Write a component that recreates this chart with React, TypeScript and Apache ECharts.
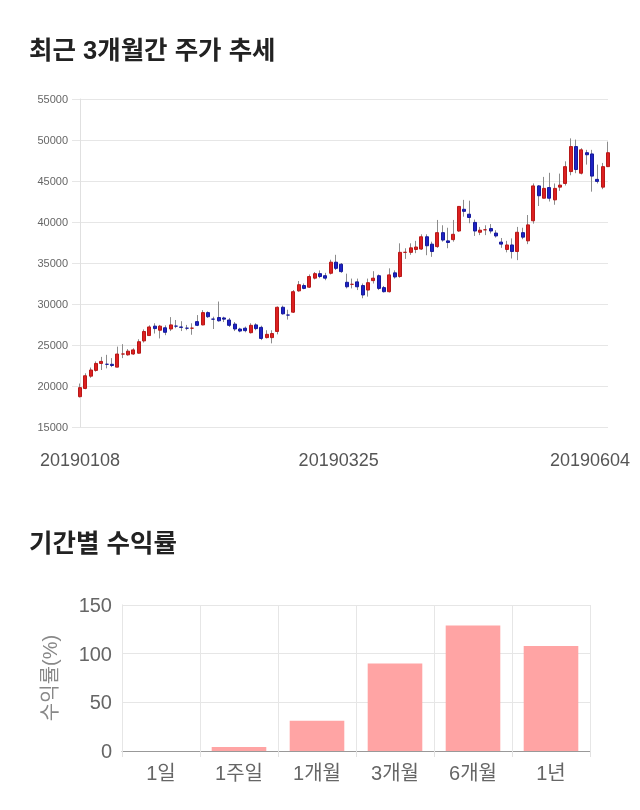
import React, { useEffect, useRef } from "react";
import * as echarts from "echarts";

const dates = [
  "20190108", "20190109", "20190110", "20190111", "20190114", "20190115", "20190116", "20190117", "20190118",
  "20190121", "20190122", "20190123", "20190124", "20190125", "20190128", "20190129", "20190130", "20190131",
  "20190201", "20190207", "20190208", "20190211", "20190212", "20190213", "20190214", "20190215", "20190218",
  "20190219", "20190220", "20190221", "20190222", "20190225", "20190226", "20190227", "20190228",
  "20190304", "20190305", "20190306", "20190307", "20190308", "20190311", "20190312", "20190313", "20190314",
  "20190315", "20190318", "20190319", "20190320", "20190321", "20190322", "20190325", "20190326", "20190327",
  "20190328", "20190329",
  "20190401", "20190402", "20190403", "20190404", "20190405", "20190408", "20190409", "20190410", "20190411",
  "20190412", "20190415", "20190416", "20190417", "20190418", "20190419", "20190422", "20190423", "20190424",
  "20190425", "20190426", "20190429", "20190430",
  "20190502", "20190503", "20190507", "20190508", "20190509", "20190510", "20190513", "20190514", "20190515",
  "20190516", "20190517", "20190520", "20190521", "20190522", "20190523", "20190524", "20190527", "20190528",
  "20190529", "20190530", "20190531",
  "20190603", "20190604",
];

const openPrices = [
  18700, 19700, 21200, 21900, 22750, 22650, 22650, 22300, 23900, 23800,
  23900, 24000, 25500, 26150, 27300, 26800, 27100, 26950, 27300, 27200,
  27050, 27050, 27850, 27450, 28950, 28150, 28350, 28300, 28050, 27550,
  26950, 27050, 26500, 27450, 27150, 25900, 25900, 26650, 29600, 28650,
  29000, 31600, 32250, 32050, 33150, 33700, 33450, 33750, 35100, 34850,
  32650, 32400, 32700, 32250, 31700, 32850, 33450, 32000, 31500, 33800,
  33350, 36300, 36300, 36650, 36700, 38200, 37300, 37000, 38700, 37700,
  37850, 38900, 41550, 40950, 39950, 38750, 39050, 39200, 38650, 37550,
  36650, 37200, 36400, 38700, 37700, 40150, 44400, 42900, 44200, 42700,
  44250, 44700, 46150, 49200, 45950, 48450, 48300, 45200, 44250, 46750,
];
const closePrices = [
  19800, 21250, 21950, 22750, 23000, 22650, 22500, 23900, 23900, 24250,
  24400, 25400, 26650, 27200, 27000, 27300, 26550, 27450, 27300, 27150,
  27050, 27050, 27400, 28950, 28450, 28150, 27950, 28150, 27400, 26950,
  26700, 26750, 27400, 27000, 25800, 26300, 26400, 29600, 28800, 28650,
  31500, 32350, 31900, 33350, 33700, 33350, 33150, 35100, 34350, 33950,
  32100, 32400, 32100, 31100, 32600, 33150, 31900, 31500, 33550, 33300,
  36300, 36300, 36850, 36950, 38200, 37100, 36400, 38700, 37800, 37500,
  38500, 41900, 41300, 40550, 38900, 39000, 39050, 38900, 38300, 37300,
  37200, 36400, 38750, 38150, 39650, 44400, 43200, 44100, 42900, 44100,
  44500, 46750, 49200, 46400, 48800, 48200, 45600, 44950, 46750, 48450,
];
const lowPrices = [
  18600, 19600, 21000, 21750, 21950, 22150, 22300, 22300, 23400, 23700,
  23800, 23950, 25300, 26100, 26400, 25800, 26200, 26700, 27050, 26700,
  26800, 26250, 27300, 27400, 28300, 26950, 27850, 27800, 27200, 26700,
  26550, 26550, 26400, 26800, 25600, 25800, 25200, 26300, 28700, 28100,
  28900, 31500, 31800, 31950, 33000, 33150, 32900, 33600, 34150, 33800,
  31900, 31900, 31700, 30700, 30900, 32500, 31700, 31400, 31400, 33100,
  33200, 35500, 36000, 36200, 36600, 35950, 35750, 36850, 37600, 36800,
  37600, 38800, 40650, 39850, 38300, 38400, 38400, 38600, 38100, 36850,
  36300, 35550, 35350, 37900, 37300, 39800, 41950, 42900, 42500, 42100,
  43800, 44450, 45700, 45950, 45800, 47000, 43700, 44700, 44000, 46700,
];
const highPrices = [
  20300, 21550, 22250, 23000, 23550, 23800, 23400, 24800, 25100, 24500,
  24600, 25700, 26900, 27400, 27650, 27450, 27400, 28400, 28050, 27900,
  27450, 27650, 28650, 29250, 29100, 28450, 30300, 28450, 28300, 27800,
  27100, 27250, 27650, 27650, 27350, 26800, 26800, 29700, 29800, 29300,
  31700, 32800, 32500, 33600, 33900, 34100, 33800, 35400, 36000, 35000,
  33700, 33100, 33100, 32500, 33100, 34000, 33600, 32200, 34350, 34100,
  37400, 36800, 37400, 37700, 38500, 38500, 37600, 40250, 39600, 39300,
  40250, 41950, 42700, 42600, 40300, 39400, 39600, 39750, 39000, 38050,
  37700, 38000, 39400, 39300, 40850, 44700, 44500, 45500, 46000, 44700,
  45900, 47400, 50200, 50050, 49000, 48800, 48800, 47000, 47200, 49800,
];

const shownDateIndexes = [0, 50, 99];

const periodLabels = ["1일", "1주일", "1개월", "3개월", "6개월", "1년"];
const periodReturns = [0, 4, 31, 90, 129, 108];

const FONT = "'Liberation Sans', 'Noto Sans CJK KR', sans-serif";

export default function App() {
  const ref = useRef<HTMLDivElement>(null);

  useEffect(() => {
    const chart = echarts.init(ref.current!, null, { renderer: "svg" });
    const wickData = dates.map((_, i) => [openPrices[i], closePrices[i], lowPrices[i], highPrices[i]]);
    const bodyData = dates.map((_, i) => [
      openPrices[i],
      closePrices[i],
      Math.min(openPrices[i], closePrices[i]),
      Math.max(openPrices[i], closePrices[i]),
    ]);
    const lastIdx = dates.length - 1;

    chart.setOption({
      animation: false,
      textStyle: { fontFamily: FONT },
      title: [
        {
          text: "최근 3개월간 주가 추세",
          left: 29,
          top: 37,
          padding: 0,
          textStyle: { fontSize: 25.5, fontWeight: "bold", color: "#222", fontFamily: FONT },
        },
        {
          text: "기간별 수익률",
          left: 29,
          top: 530,
          padding: 0,
          textStyle: { fontSize: 25.5, fontWeight: "bold", color: "#222", fontFamily: FONT },
        },
      ],
      grid: [
        { left: 80, right: 32, top: 99, height: 328 },
        { left: 122, right: 50, top: 605, height: 146 },
      ],
      xAxis: [
        {
          type: "category",
          gridIndex: 0,
          data: dates,
          boundaryGap: false,
          axisLine: { show: false },
          axisTick: { show: false },
          splitLine: { show: false },
          axisLabel: {
            interval: (i: number) => shownDateIndexes.includes(i),
            margin: 24,
            fontSize: 18,
            color: "#555",
            fontFamily: FONT,
            formatter: (v: string, i: number) =>
              i === lastIdx ? `{last|${v}}` : i === 50 ? `{mid|${v}}` : `{n|${v}}`,
            rich: {
              n: { fontSize: 18, color: "#555", fontFamily: FONT },
              mid: { fontSize: 18, color: "#555", fontFamily: FONT, padding: [0, 16, 0, 0] },
              last: { fontSize: 18, color: "#555", fontFamily: FONT, padding: [0, 36, 0, 0] },
            },
          },
        },
        {
          type: "category",
          gridIndex: 1,
          data: periodLabels,
          z: 5,
          axisLine: { show: true, lineStyle: { color: "#999", width: 1 } },
          axisTick: { show: true, length: 6, lineStyle: { color: "#e2e2e2" } },
          splitLine: { show: true, lineStyle: { color: "#e6e6e6" } },
          axisLabel: { fontSize: 20, color: "#666", margin: 12, fontFamily: FONT },
        },
      ],
      yAxis: [
        {
          type: "value",
          gridIndex: 0,
          min: 15000,
          max: 55000,
          interval: 5000,
          axisLine: { show: true, lineStyle: { color: "#e0e0e0" } },
          axisTick: { show: true, length: 8, lineStyle: { color: "#e6e6e6" } },
          splitLine: { show: true, lineStyle: { color: "#e6e6e6" } },
          axisLabel: {
            fontSize: 11,
            color: "#666",
            margin: 12,
            fontFamily: FONT,
            formatter: (v: number) => String(v),
          },
        },
        {
          type: "value",
          gridIndex: 1,
          min: 0,
          max: 150,
          interval: 50,
          name: "수익률(%)",
          nameLocation: "middle",
          nameGap: 62,
          nameTextStyle: { fontSize: 20, color: "#888", fontFamily: FONT },
          axisLine: { show: true, lineStyle: { color: "#dcdcdc" } },
          axisTick: { show: false },
          splitLine: { show: true, lineStyle: { color: "#e6e6e6" } },
          axisLabel: { fontSize: 20, color: "#666", margin: 10, fontFamily: FONT },
        },
      ],
      series: [
        {
          type: "candlestick",
          xAxisIndex: 0,
          yAxisIndex: 0,
          data: wickData,
          barWidth: 1,
          clip: false,
          itemStyle: {
            color: "#8c8c8c",
            color0: "#8c8c8c",
            borderColor: "#8c8c8c",
            borderColor0: "#8c8c8c",
            borderWidth: 1,
          },
          z: 2,
        },
        {
          type: "candlestick",
          xAxisIndex: 0,
          yAxisIndex: 0,
          data: bodyData,
          barWidth: 3.5,
          clip: false,
          itemStyle: {
            color: "#dc2020",
            color0: "#1e22c2",
            borderColor: "#b81818",
            borderColor0: "#161a9c",
            borderWidth: 1,
          },
          z: 3,
        },
        {
          type: "bar",
          xAxisIndex: 1,
          yAxisIndex: 1,
          data: periodReturns,
          barWidth: "70%",
          itemStyle: { color: "#ffa4a4", borderWidth: 0 },
        },
      ],
    });
    return () => chart.dispose();
  }, []);

  return <div ref={ref} style={{ position: "fixed", left: 0, top: 0, width: 640, height: 810 }} />;
}
